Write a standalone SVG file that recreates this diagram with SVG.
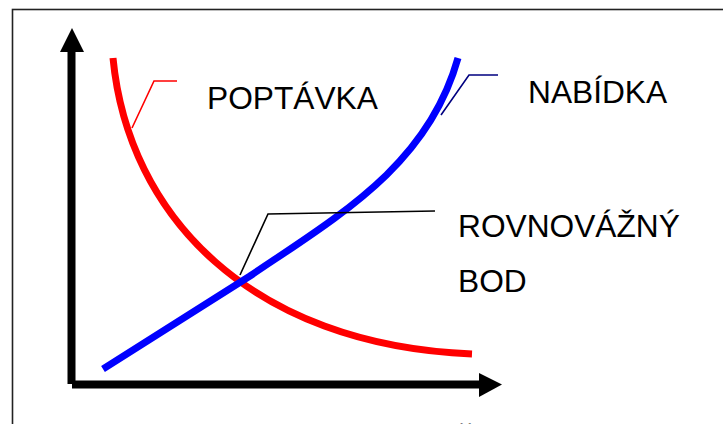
<svg xmlns="http://www.w3.org/2000/svg" width="723" height="424" viewBox="0 0 723 424">
<style>
.lbl{font-family:"Liberation Sans",Arial,sans-serif;font-size:31.7px;fill:#000}
.curve{fill:none;stroke-width:7}
.lead{fill:none;stroke-width:1.6}
</style>
<rect x="0" y="0" width="723" height="424" fill="#fff"/>
<rect x="12.5" y="9.5" width="730" height="440" fill="none" stroke="#222" stroke-width="1.6"/>
<g id="axes">
<line x1="71.5" y1="50" x2="71.5" y2="384" stroke="#000" stroke-width="8"/>
<line x1="72" y1="384.5" x2="481" y2="384.5" stroke="#000" stroke-width="8"/>
<polygon points="72,28 84,52 60,52" fill="#000"/>
<polygon points="502,384.5 479,373 479,397" fill="#000"/>
</g>
<g id="poptavka">
<path class="curve" stroke="#ff0000" d="M113,58 C128,215 250,345 472,354"/>
<polyline class="lead" stroke="#ff0000" points="132,128 154,81 177,81"/>
<text class="lbl" x="207" y="109">POPTÁVKA</text>
</g>
<g id="nabidka">
<path class="curve" stroke="#0000ff" d="M103,369 L250,276 C340,215 428,165 458,58"/>
<polyline class="lead" stroke="#000080" points="441,115 469,75 498,75"/>
<text class="lbl" x="528" y="103">NABÍDKA</text>
</g>
<g id="rovnovazny-bod">
<polyline class="lead" stroke="#000" points="240,275 268,214 435,211"/>
<text class="lbl" x="458" y="237">ROVNOVÁŽNÝ</text>
<text class="lbl" x="458" y="292">BOD</text>
</g>
<text class="lbl" x="455" y="451">Ř</text>
</svg>
